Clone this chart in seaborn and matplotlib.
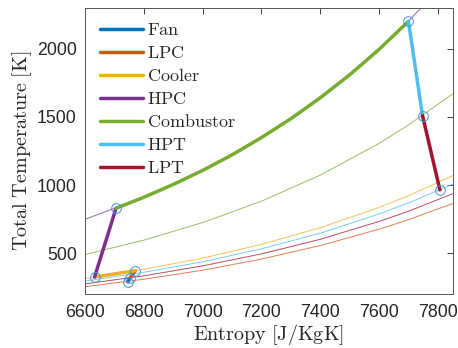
import matplotlib
matplotlib.use("Agg")
import matplotlib.pyplot as plt
import seaborn as sns

# component paths on the T-s chart (entropy J/kgK, total temperature K)
s_fan = [6745, 6752]
T_fan = [290, 318]
s_lpc = [6752, 6771]
T_lpc = [318, 372]
s_cooler = [6771, 6700, 6632]
T_cooler = [372, 348, 325]
s_hpc = [6632, 6705]
T_hpc = [325, 830]
s_comb = [6705, 6800, 6900, 7000, 7100, 7200, 7300, 7400, 7500, 7600, 7700]
T_comb = [830, 911, 1005, 1108, 1222, 1349, 1487, 1641, 1809, 1996, 2202]
s_hpt = [7700, 7748]
T_hpt = [2202, 1510]
s_lpt = [7748, 7807]
T_lpt = [1510, 965]

# state points (circles)
s_pts = [6745, 6752, 6771, 6632, 6705, 7700, 7748, 7807]
T_pts = [290, 318, 372, 325, 830, 2202, 1510, 965]

# isobars
s_iso = [6600, 6800, 7000, 7200, 7400, 7600, 7700, 7850]
T_iso_purple = [749, 911, 1108, 1349, 1641, 1996, 2202, 2550]
T_iso_green = [490, 596, 725, 882, 1073, 1306, 1441, 1669]
T_iso_yellow = [314, 382, 464, 565, 687, 836, 922, 1069]
T_iso_cyan = [296, 360, 437, 532, 647, 788, 869, 1006]
T_iso_red = [275, 334, 407, 495, 602, 733, 808, 936]
T_iso_orange = [254, 309, 375, 457, 556, 676, 746, 864]

c_fan = '#0072BD'
c_lpc = '#D95319'
c_cool = '#EDB120'
c_hpc = '#7E2F8E'
c_comb = '#77AC30'
c_hpt = '#4DBEEE'
c_lpt = '#A2142F'

sns.set_theme(style="white")
plt.rcParams['font.family'] = ['Liberation Sans', 'DejaVu Sans']
plt.rcParams['mathtext.fontset'] = 'cm'

fig = plt.figure(figsize=(4.58, 3.48), dpi=100)
ax = fig.add_axes([0.186, 0.155, 0.802, 0.822])

# thin isobars
for T_iso, col in [(T_iso_purple, c_hpc), (T_iso_green, c_comb), (T_iso_yellow, c_cool),
                   (T_iso_cyan, c_hpt), (T_iso_red, c_lpt), (T_iso_orange, c_lpc)]:
    sns.lineplot(x=s_iso, y=T_iso, color=col, lw=0.7, alpha=0.75, sort=False, ax=ax)

# thick component lines
comps = [('Fan', s_fan, T_fan, c_fan), ('LPC', s_lpc, T_lpc, c_lpc),
         ('Cooler', s_cooler, T_cooler, c_cool), ('HPC', s_hpc, T_hpc, c_hpc),
         ('Combustor', s_comb, T_comb, c_comb), ('HPT', s_hpt, T_hpt, c_hpt),
         ('LPT', s_lpt, T_lpt, c_lpt)]
for name, s, T, col in comps:
    sns.lineplot(x=s, y=T, color=col, lw=2.5, sort=False, ax=ax,
                 label=r'$\mathrm{%s}$' % name)

ax.plot(s_pts, T_pts, 'o', ms=7, mfc='none', mec='#3f95d6', mew=0.7)

ax.set_xlim(6600, 7850)
ax.set_ylim(200, 2300)
ax.set_xticks([6600, 6800, 7000, 7200, 7400, 7600, 7800])
ax.set_yticks([500, 1000, 1500, 2000])
ax.tick_params(direction='in', top=True, right=True, length=4, width=0.6,
               colors='#262626', labelsize=12.8)
ax.tick_params(axis='x', pad=7)
ax.tick_params(axis='y', pad=6)
for sp in ax.spines.values():
    sp.set_color('#555555')
    sp.set_linewidth(0.7)

ax.set_xlabel(r'$\mathrm{Entropy\ [J/KgK]}$', fontsize=14.5, color='#262626', labelpad=1)
ax.set_ylabel(r'$\mathrm{Total\ Temperature\ [K]}$', fontsize=14.5, color='#262626', labelpad=2)

ax.legend(loc='upper left', frameon=False, fontsize=13, handlelength=2.4,
          handletextpad=0.2, labelspacing=0.33, borderaxespad=0.4)

fig.savefig('out.png', dpi=100)
